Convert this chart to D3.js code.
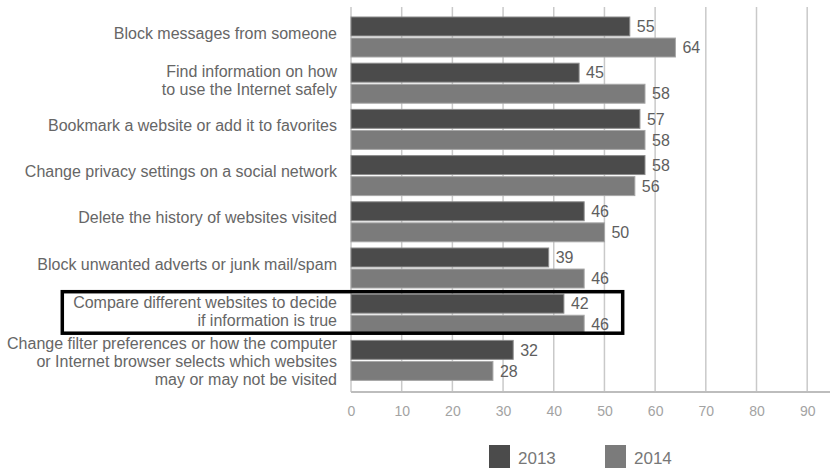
<!DOCTYPE html>
<html>
<head>
<meta charset="utf-8">
<script src="https://cdn.jsdelivr.net/npm/d3@7"></script>
<style>
  html, body { margin: 0; padding: 0; background: #fff; }
  svg { display: block; }
</style>
</head>
<body>
<svg id="chart" width="835" height="468"></svg>
<script>
// Activities, each split over one or more label lines
const categories = [
  ["Block messages from someone"],
  ["Find information on how", "to use the Internet safely"],
  ["Bookmark a website or add it to favorites"],
  ["Change privacy settings on a social network"],
  ["Delete the history of websites visited"],
  ["Block unwanted adverts or junk mail/spam"],
  ["Compare different websites to decide", "if information is true"],
  ["Change filter preferences or how the computer", "or Internet browser selects which websites", "may or may not be visited"]
];
const seriesNames = ["2013", "2014"];
const values2013 = [55, 45, 57, 58, 46, 39, 42, 32];
const values2014 = [64, 58, 58, 56, 50, 46, 46, 28];
const xTicks = [0, 10, 20, 30, 40, 50, 60, 70, 80, 90];
const highlighted = 6;

const colors = { "2013": "#4b4b4b", "2014": "#7b7b7b" };
const strokes = { "2013": "#8c8c8c", "2014": "#a6a6a6" };
const font = "'Liberation Sans', Arial, sans-serif";

const svg = d3.select("#chart");
const plotLeft = 351, plotRight = 830, plotTop = 7, plotBottom = 392;

const keys = categories.map((c, i) => i);
const x = d3.scaleLinear().domain([0, 94.5]).range([plotLeft, plotRight]);
const y = d3.scaleBand().domain(keys).range([13.9, 383.5])
  .paddingInner(0.134).paddingOuter(0.067);
const ys = d3.scaleBand().domain(seriesNames).range([0, y.bandwidth()]).paddingInner(0.1);

// vertical grid
svg.append("g").selectAll("line").data(xTicks.slice(1)).join("line")
  .attr("x1", d => x(d)).attr("x2", d => x(d))
  .attr("y1", plotTop).attr("y2", plotBottom)
  .attr("stroke", "#c9c9c9").attr("stroke-width", 1.5);
svg.append("line").attr("x1", plotLeft).attr("x2", plotLeft).attr("y1", plotTop).attr("y2", plotBottom)
  .attr("stroke", "#c9c9c9").attr("stroke-width", 1.5);

// bottom axis
const axis = svg.append("g").attr("transform", `translate(0,${plotBottom})`)
  .call(d3.axisBottom(x).tickValues(xTicks).tickSize(0).tickPadding(14));
axis.select(".domain").attr("stroke", "#bdbdbd").attr("stroke-width", 2)
  .attr("d", `M${plotLeft},0H${plotRight}`);
axis.selectAll("text").attr("fill", "#a3a3a3").style("font-family", font).style("font-size", "14px");

// bars
const data = keys.map(i => ({ i, vals: [
  { s: "2013", v: values2013[i] },
  { s: "2014", v: values2014[i] }
]}));
const groups = svg.append("g").selectAll("g").data(data).join("g")
  .attr("transform", d => `translate(0,${y(d.i)})`);
groups.selectAll("rect").data(d => d.vals).join("rect")
  .attr("x", x(0)).attr("y", d => ys(d.s))
  .attr("width", d => x(d.v) - x(0)).attr("height", ys.bandwidth())
  .attr("fill", d => colors[d.s]).attr("stroke", d => strokes[d.s]).attr("stroke-width", 1);
groups.selectAll("text").data(d => d.vals).join("text")
  .attr("x", d => x(d.v) + 7).attr("y", d => ys(d.s) + ys.bandwidth() / 2)
  .attr("dy", "0.36em")
  .attr("fill", "#5e5e5e").style("font-family", font).style("font-size", "16px")
  .text(d => d.v);

// category labels, centred on their group (baseline nudge per line count)
const baselineNudge = { 1: 1.5, 2: 3, 3: 6.5 };
const labels = svg.append("g").selectAll("text").data(keys).join("text")
  .attr("text-anchor", "end").attr("fill", "#666")
  .style("font-family", font).style("font-size", "16px");
labels.each(function(i) {
  const lines = categories[i];
  const n = lines.length;
  const lh = 18;
  const c = y(i) + y.bandwidth() / 2 + baselineNudge[n];
  d3.select(this).selectAll("tspan").data(lines).join("tspan")
    .attr("x", 337)
    .attr("y", (d, k) => c + (k - (n - 1) / 2) * lh)
    .text(d => d);
});

// highlight box around one category
svg.append("rect")
  .attr("x", 62.3).attr("y", y(highlighted) - 2.5)
  .attr("width", x(53.6) - 62.3).attr("height", y.bandwidth() + 1.5)
  .attr("fill", "none").attr("stroke", "#000").attr("stroke-width", 3.5);

// legend
const legend = svg.append("g").selectAll("g").data(seriesNames).join("g")
  .attr("transform", (d, k) => `translate(${489 + k * 116},445)`);
legend.append("rect").attr("width", 21).attr("height", 23)
  .attr("fill", d => colors[d]);
legend.append("text").attr("x", 29).attr("y", 19)
  .attr("fill", "#777").style("font-family", font).style("font-size", "17px")
  .text(d => d);
</script>
</body>
</html>
